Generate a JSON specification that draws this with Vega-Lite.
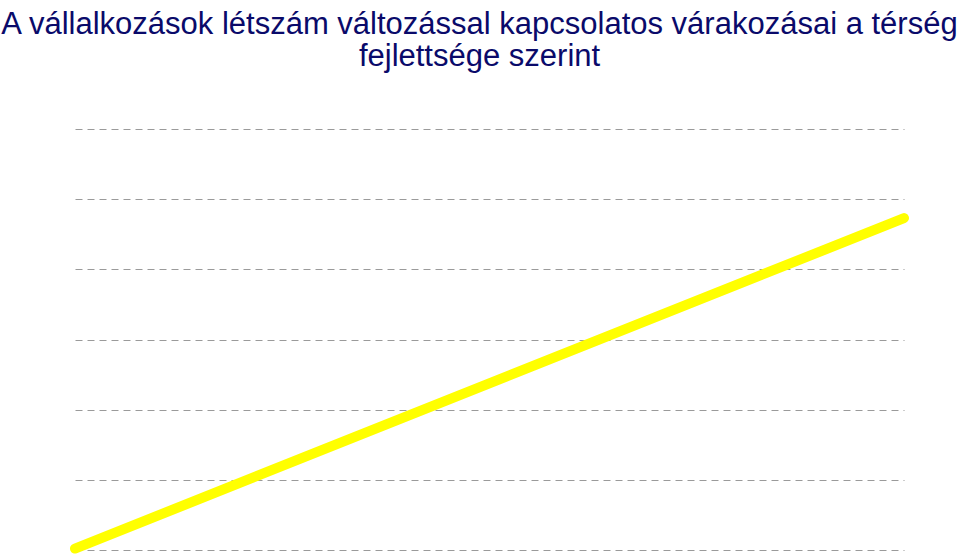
{
  "$schema": "https://vega.github.io/schema/vega-lite/v6.json",
  "width": 829,
  "height": 421,
  "autosize": {"type": "none"},
  "padding": {"left": 75, "top": 129, "right": 56, "bottom": 7},
  "background": "white",
  "title": {
    "text": ["A vállalkozások létszám változással kapcsolatos várakozásai a térség", "fejlettsége szerint"],
    "font": "Liberation Sans",
    "fontSize": 31,
    "fontWeight": "normal",
    "color": "#0a0a6a",
    "anchor": "middle",
    "lineHeight": 32,
    "offset": 56,
    "dx": -10
  },
  "config": {
    "view": {"stroke": null},
    "axis": {"domain": false, "ticks": false, "labels": false, "title": null}
  },
  "data": {
    "values": [
      {"x": 0, "y": 0.02},
      {"x": 1, "y": 4.73}
    ]
  },
  "mark": {"type": "line", "color": "#ffff00", "strokeWidth": 10, "strokeCap": "round"},
  "encoding": {
    "x": {
      "field": "x",
      "type": "quantitative",
      "scale": {"domain": [0, 1], "nice": false},
      "axis": {"grid": false}
    },
    "y": {
      "field": "y",
      "type": "quantitative",
      "scale": {"domain": [0, 6], "nice": false, "zero": false},
      "axis": {
        "grid": true,
        "values": [0, 1, 2, 3, 4, 5, 6],
        "labelOverlap": false,
        "gridColor": "#9a9a9a",
        "gridDash": [7, 5],
        "gridWidth": 1,
        "gridOpacity": 1
      }
    }
  }
}
